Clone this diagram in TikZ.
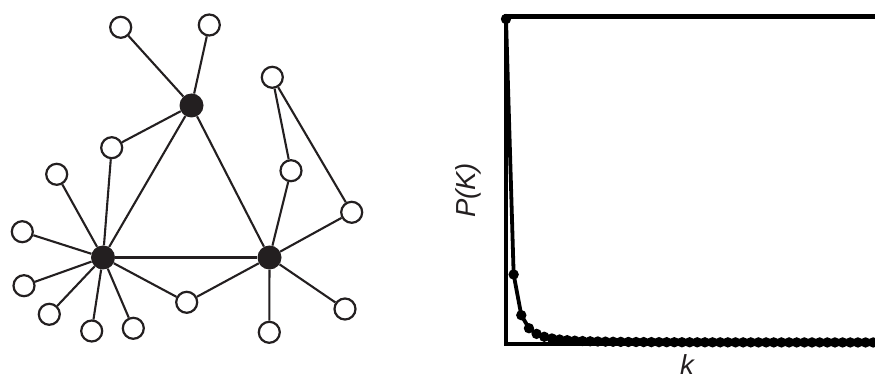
\documentclass[tikz,border=0pt]{standalone}
\usepackage{fontspec}
\setmainfont{Liberation Sans}
\definecolor{netblack}{HTML}{231F20}
\begin{document}
\begin{tikzpicture}[x=1pt,y=-1pt,
  hub/.style={circle,fill=netblack,draw=none,minimum size=24pt,inner sep=0pt},
  leaf/.style={circle,draw=netblack,fill=white,line width=2.2pt,minimum size=21pt,inner sep=0pt},
  edge/.style={draw=netblack,line width=2.1pt},
  axisline/.style={draw=black,line width=4.8pt,line join=miter},
  curveline/.style={draw=black,line width=3.8pt,line join=round},
  lbl/.style={font=\fontsize{27.5}{30}\selectfont\itshape,text=netblack,inner sep=0pt}]
\useasboundingbox (0,0) rectangle (875,379);
% hubs
\node[hub] (T) at (191.5,105.5) {};
\node[hub] (L) at (103,257.5) {};
\node[hub] (R) at (269.5,257.5) {};
% leaves
\node[leaf] (n1) at (120.7,27.3) {};
\node[leaf] (n2) at (209.3,25) {};
\node[leaf] (n3) at (111.7,147.7) {};
\node[leaf] (n4) at (272.3,77.3) {};
\node[leaf] (n5) at (291,170.7) {};
\node[leaf] (n6) at (351.7,212.3) {};
\node[leaf] (n7) at (56.7,174.3) {};
\node[leaf] (n8) at (22.3,231.7) {};
\node[leaf] (n9) at (24,285.7) {};
\node[leaf] (n10) at (49.3,314.3) {};
\node[leaf] (n11) at (91.7,331) {};
\node[leaf] (n12) at (133.3,328.3) {};
\node[leaf] (n13) at (186.7,302.3) {};
\node[leaf] (n14) at (269.3,332.3) {};
\node[leaf] (n15) at (345,309) {};
% edges
\foreach \a/\b in {T/n1,T/n2,T/n3,T/L,T/R,L/R,L/n3,L/n7,L/n8,L/n9,L/n10,L/n11,L/n12,L/n13,R/n13,R/n5,R/n6,R/n14,R/n15,n4/n5,n4/n6}
  \draw[edge] (\a) -- (\b);
% plot frame
\draw[axisline] (880,16.5) -- (506,16.5) -- (506,344) -- (880,344);
% curve
\draw[curveline] plot[domain=0:49,samples=50] ({506+7.65*\x},{342.5-323.5*pow(\x+1,-2.25)});
\foreach \i in {0,...,49}
  \fill[black] ({506+7.65*\i},{342.5-323.5*pow(\i+1,-2.25)}) circle (5.2pt);
% labels
\node[lbl,rotate=90,anchor=base] (ylab) at (475,190.5) {P(K)};
\node[lbl,anchor=base] (xlab) at (687,374.5) {k};
\end{tikzpicture}
\end{document}
